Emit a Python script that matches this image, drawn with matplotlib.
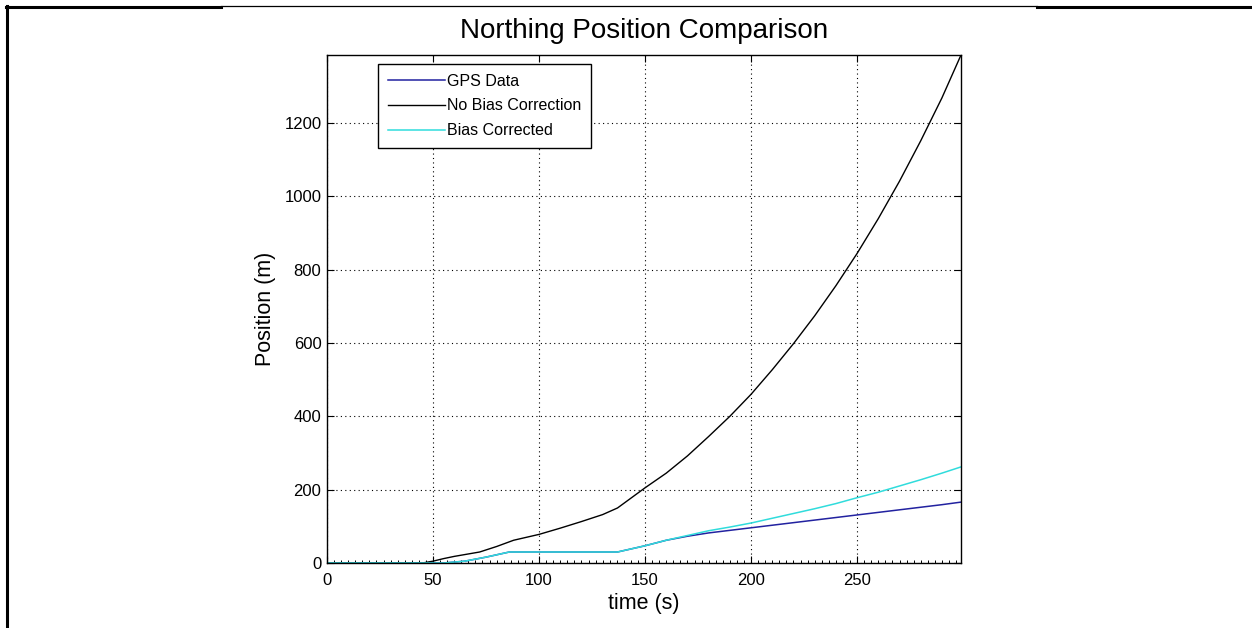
import matplotlib.pyplot as plt
from matplotlib.lines import Line2D
from matplotlib.ticker import MultipleLocator

plt.rcParams['font.family'] = ['Liberation Sans', 'DejaVu Sans']

# time samples (s) and positions (m)
t_black = [0, 45, 50, 55, 60, 72, 80, 88, 100, 110, 120, 130, 137, 150, 160, 170,
           180, 190, 200, 210, 220, 230, 240, 250, 260, 270, 280, 290, 299]
no_bias = [0, 0, 5, 12, 18, 30, 45, 62, 78, 95, 113, 132, 150, 205, 245, 292,
           345, 400, 460, 527, 598, 674, 756, 844, 939, 1041, 1151, 1268, 1385]

t_corr = [0, 55, 65, 75, 86, 137, 150, 160, 170, 180, 190, 200, 210, 220, 230,
          240, 250, 260, 270, 280, 290, 299]
bias_corr = [0, 0, 5, 16, 30, 30, 47, 62, 75, 88, 98, 109, 122, 135, 148, 162,
             178, 193, 210, 227, 245, 262]
gps = [0, 0, 5, 16, 30, 30, 47, 62, 73, 82, 89, 96, 103, 110, 117, 124, 131,
       138, 145, 152, 159, 166]

title = "Northing Position Comparison"

fig = plt.figure(figsize=(12.52, 6.28), dpi=100)
W, H = 1252, 628
ax = fig.add_axes([327 / W, 1 - 563 / H, (961 - 327) / W, (563 - 55) / H])

ax.plot(t_corr, gps, color='#2222a0', lw=1.1, label='GPS Data')
ax.plot(t_black, no_bias, color='black', lw=1.0, label='No Bias Correction')
ax.plot(t_corr, bias_corr, color='#30dcdc', lw=1.1, label='Bias Corrected')

ax.set_xlim(0, 299)
ax.set_ylim(0, 1385)
ax.set_xticks([0, 50, 100, 150, 200, 250])
ax.set_yticks([0, 200, 400, 600, 800, 1000, 1200])
ax.xaxis.set_minor_locator(MultipleLocator(50 / 15))
ax.tick_params(which='major', direction='in', length=5, width=0.8,
               top=True, right=True, labelsize=12)
ax.tick_params(axis='x', which='major', pad=7)
ax.tick_params(axis='y', which='major', pad=4)
ax.tick_params(which='minor', direction='in', length=2.5, width=0.7,
               bottom=True, top=False)
ax.grid(True, which='major', linestyle=(0, (1, 3)), color='black', lw=0.8)
for s in ax.spines.values():
    s.set_linewidth(1.0)

ax.set_xlabel("time (s)", fontsize=15.5, labelpad=4)
ax.set_ylabel("Position (m)", fontsize=15.5, labelpad=6)
ax.set_title(title, fontsize=20, pad=12)

leg = ax.legend(loc='upper left', bbox_to_anchor=(51 / 634, 1 - 9 / 508),
                fontsize=11.5, fancybox=False, framealpha=1, edgecolor='black',
                handlelength=3.6, handletextpad=0.15, labelspacing=0.62,
                borderpad=0.6, borderaxespad=0)
leg.get_frame().set_linewidth(1.0)

# page border around the figure
fig.add_artist(Line2D([7 / W, 7 / W], [0, 1 - 6 / H], color='black', lw=2.2,
                      transform=fig.transFigure))
fig.add_artist(Line2D([6 / W, 221 / W], [1 - 6.5 / H, 1 - 6.5 / H], color='black',
                      lw=2.2, transform=fig.transFigure))
fig.add_artist(Line2D([221 / W, 1037 / W], [1 - 6 / H, 1 - 6 / H], color='black',
                      lw=0.9, transform=fig.transFigure))
fig.add_artist(Line2D([1037 / W, 1], [1 - 6.5 / H, 1 - 6.5 / H], color='black',
                      lw=2.2, transform=fig.transFigure))

fig.savefig('out.png', dpi=100)
